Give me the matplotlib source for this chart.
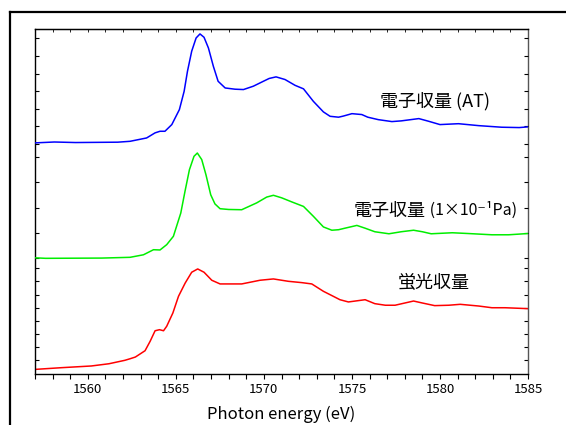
import matplotlib
matplotlib.use("Agg")
import matplotlib.pyplot as plt
from matplotlib.lines import Line2D
import numpy as np

plt.rcParams['font.family'] = ['Noto Sans CJK JP', 'DejaVu Sans']

# electron yield, atmosphere (arb. units)
at_e = [1557.0, 1558.1, 1559.3, 1561.7, 1562.4, 1563.34, 1563.82, 1564.1, 1564.38,
        1564.77, 1565.2, 1565.47, 1565.66, 1565.9, 1566.15, 1566.37, 1566.6, 1566.85,
        1567.13, 1567.4, 1567.8, 1568.36, 1568.84, 1569.4, 1569.97, 1570.3, 1570.69,
        1571.2, 1571.77, 1572.25, 1572.81, 1573.38, 1573.76, 1574.24, 1574.5, 1575.0,
        1575.56, 1575.9, 1576.5, 1577.27, 1577.8, 1578.8, 1579.35, 1580.0, 1581.05,
        1582.2, 1583.5, 1584.5, 1585.0]
at_i = [0.06, 0.11, 0.08, 0.10, 0.15, 0.34, 0.63, 0.72, 0.72,
        1.10, 1.95, 2.99, 4.13, 5.27, 6.02, 6.25, 6.06, 5.45,
        4.41, 3.56, 3.18, 3.11, 3.09, 3.28, 3.56, 3.72, 3.81,
        3.66, 3.33, 3.13, 2.42, 1.82, 1.57, 1.52, 1.58, 1.72,
        1.67, 1.52, 1.38, 1.27, 1.31, 1.44, 1.29, 1.10, 1.15,
        1.04, 0.95, 0.93, 0.97]

# electron yield, 1x10^-1 Pa
lp_e = [1557.0, 1557.6, 1560.8, 1562.4, 1563.16, 1563.73, 1564.1, 1564.48, 1564.86,
        1565.28, 1565.52, 1565.77, 1566.03, 1566.22, 1566.47, 1566.71, 1566.98, 1567.22,
        1567.51, 1568.0, 1568.74, 1569.59, 1570.16, 1570.54, 1571.01, 1571.58, 1572.25,
        1572.81, 1573.38, 1573.86, 1574.24, 1574.6, 1575.28, 1575.75, 1576.3, 1577.1,
        1577.8, 1578.5, 1579.0, 1579.5, 1580.7, 1581.6, 1582.95, 1583.9, 1585.0]
lp_i = [0.02, 0.00, 0.01, 0.04, 0.14, 0.34, 0.33, 0.54, 0.87,
        1.79, 2.65, 3.50, 4.03, 4.16, 3.90, 3.30, 2.51, 2.15,
        1.96, 1.93, 1.92, 2.19, 2.42, 2.49, 2.39, 2.23, 2.05,
        1.66, 1.24, 1.11, 1.13, 1.19, 1.30, 1.19, 1.05, 0.97,
        1.05, 1.11, 1.05, 0.97, 1.01, 0.98, 0.93, 0.93, 0.98]

# fluorescence yield
fy_e = [1557.0, 1558.5, 1560.2, 1561.2, 1562.1, 1562.4, 1562.7, 1563.25, 1563.54,
        1563.82, 1564.07, 1564.3, 1564.48, 1564.83, 1565.15, 1565.53, 1565.9, 1566.24,
        1566.6, 1567.04, 1567.51, 1568.74, 1569.78, 1570.54, 1571.39, 1572.15, 1572.72,
        1573.38, 1573.94, 1574.32, 1574.8, 1575.75, 1576.3, 1576.9, 1577.45, 1578.5,
        1579.0, 1579.7, 1580.5, 1581.15, 1582.2, 1582.95, 1583.7, 1585.0]
fy_i = [-0.69, -0.56, -0.43, -0.26, 0.00, 0.12, 0.25, 0.73, 1.45,
        2.25, 2.33, 2.25, 2.59, 3.60, 4.87, 5.88, 6.70, 6.95,
        6.70, 6.09, 5.81, 5.81, 6.09, 6.19, 6.01, 5.91, 5.81,
        5.25, 4.87, 4.61, 4.44, 4.61, 4.31, 4.19, 4.19, 4.51,
        4.36, 4.16, 4.19, 4.26, 4.13, 4.00, 4.00, 3.93]

label_at = '電子収量 (AT)'
label_lp = ('電子収量', ' (1×10⁻¹Pa)')
label_fy = '蛍光収量'
colors = ['#0000ff', '#00ee00', '#ff0000']

fig = plt.figure(figsize=(5.66, 4.25), dpi=100)
rect = [35 / 566, 51 / 425, 493 / 566, 345 / 425]

# three overlaid panels, each with its own y scale
ax_fy = fig.add_axes(rect)
ax_lp = fig.add_axes(rect, sharex=ax_fy)
ax_at = fig.add_axes(rect, sharex=ax_fy)

ax_at.set_ylim(-13.07, 6.53)
ax_lp.set_ylim(-4.57, 9.06)
ax_fy.set_ylim(-1.04, 25.2)

for ax, e, i, c in [(ax_at, at_e, at_i, colors[0]),
                    (ax_lp, lp_e, lp_i, colors[1]),
                    (ax_fy, fy_e, fy_i, colors[2])]:
    ax.plot(e, i, color=c, lw=1.1, solid_joinstyle='round')

for ax, n in [(ax_at, 7), (ax_lp, 5), (ax_fy, 8)]:
    ax.set_yticks(np.arange(n))
    ax.tick_params(axis='y', which='both', direction='in', length=3, width=0.8,
                   left=True, right=True, labelleft=False, labelright=False)

for ax in (ax_at, ax_lp):
    ax.patch.set_visible(False)
    for s in ax.spines.values():
        s.set_visible(False)
    ax.tick_params(axis='x', which='both', bottom=False, top=False, labelbottom=False)

ax_fy.set_xlim(1557, 1585)
ax_fy.set_xticks(np.arange(1560, 1586, 5))
ax_fy.set_xticks(np.arange(1557, 1586, 1), minor=True)
ax_fy.tick_params(axis='x', which='both', direction='out', length=3.5, width=0.8,
                  top=False, labelsize=9.5, pad=3)
for s in ax_fy.spines.values():
    s.set_linewidth(1.0)
ax_fy.spines['right'].set_color('#555555')
ax_fy.set_xlabel('Photon energy (eV)', fontsize=12, labelpad=7)

# top spine ticks pointing inward
top = ax_fy.secondary_xaxis('top')
top.set_xticks(np.arange(1557, 1586, 1))
top.tick_params(direction='in', length=2, width=0.6, labeltop=False)

ax_at.text(1576.6, 2.4, label_at, fontsize=13, va='center', ha='left')
t = ax_lp.text(1575.1, 1.88, label_lp[0], fontsize=13, va='center', ha='left')
ax_lp.annotate(label_lp[1], xy=(1, 0.5), xycoords=t, fontsize=11.5,
               va='center', ha='left')
ax_fy.text(1577.6, 5.85, label_fy, fontsize=13, va='center', ha='left')

# outer frame
fig.add_artist(Line2D([9.5 / 566, 9.5 / 566], [0, 1 - 11.5 / 425],
                      transform=fig.transFigure, color='black', lw=1.6))
fig.add_artist(Line2D([9.5 / 566, 1], [1 - 11.5 / 425, 1 - 11.5 / 425],
                      transform=fig.transFigure, color='black', lw=1.6))

fig.savefig('out.png', dpi=100)
